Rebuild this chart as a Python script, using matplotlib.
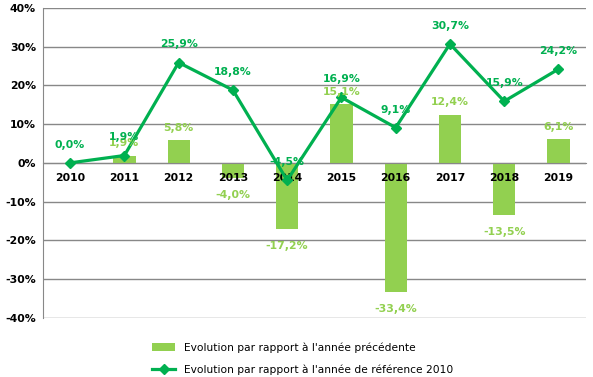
import numpy as np
import matplotlib.pyplot as plt
from matplotlib.ticker import FuncFormatter

years = ['2010', '2011', '2012', '2013', '2014', '2015', '2016', '2017', '2018', '2019']
prev_year = [np.nan, 1.9, 5.8, -4.0, -17.2, 15.1, -33.4, 12.4, -13.5, 6.1]
ref_2010 = [0.0, 1.9, 25.9, 18.8, -4.5, 16.9, 9.1, 30.7, 15.9, 24.2]

bar_color = '#92D050'
line_color = '#00B050'

def fr(v):
    return ('%.1f%%' % v).replace('.', ',')

fig = plt.figure(figsize=(5.93, 3.77), dpi=100)
ax = fig.add_axes([0.0725, 0.157, 0.915, 0.822])

x = np.arange(len(years))
bars = ax.bar(x, prev_year, width=0.41, color=bar_color, zorder=2,
              label="Evolution par rapport à l'année précédente")
line, = ax.plot(x, ref_2010, color=line_color, lw=2.3, marker='D', ms=5, zorder=4,
                label="Evolution par rapport à l'année de référence 2010")

# year labels drawn on top of the bars, just under the zero line
for xi, yr in zip(x, years):
    ax.annotate(yr, (xi, 0), xytext=(0, -11), textcoords='offset points',
                ha='center', va='center', fontsize=7.8, fontweight='bold', zorder=3)

for xi, v in zip(x, prev_year):
    if np.isnan(v):
        continue
    off = 9 if v >= 0 else -12
    ax.annotate(fr(v), (xi, v), xytext=(0, off), textcoords='offset points',
                ha='center', va='center', color=bar_color, fontsize=7.8, fontweight='bold', zorder=5)

for xi, v in zip(x, ref_2010):
    ax.annotate(fr(v), (xi, v), xytext=(0, 13), textcoords='offset points',
                ha='center', va='center', color=line_color, fontsize=7.8, fontweight='bold', zorder=5)

ax.set_xlim(-0.5, len(years) - 0.5)
ax.set_ylim(-40, 40)
ax.set_yticks(np.arange(-40, 41, 10))
ax.yaxis.set_major_formatter(FuncFormatter(lambda v, p: '%d%%' % v))
ax.set_xticks([])
ax.grid(axis='y', color='#888888', lw=1, zorder=0)
ax.set_axisbelow(True)

ax.spines['bottom'].set_position(('data', 0))
ax.spines['bottom'].set_color('#888888')
ax.spines['left'].set_color('#888888')
ax.spines['top'].set_visible(False)
ax.spines['right'].set_visible(False)
ax.tick_params(axis='both', length=0, labelsize=7.8)
ax.tick_params(axis='y', pad=5)
for t in ax.get_yticklabels():
    t.set_fontweight('bold')

fig.legend(handles=[bars, line], loc='lower center', bbox_to_anchor=(0.51, -0.02),
           frameon=False, fontsize=7.7, handlelength=2.2, labelspacing=1.1)

fig.savefig('out.png', dpi=100)
